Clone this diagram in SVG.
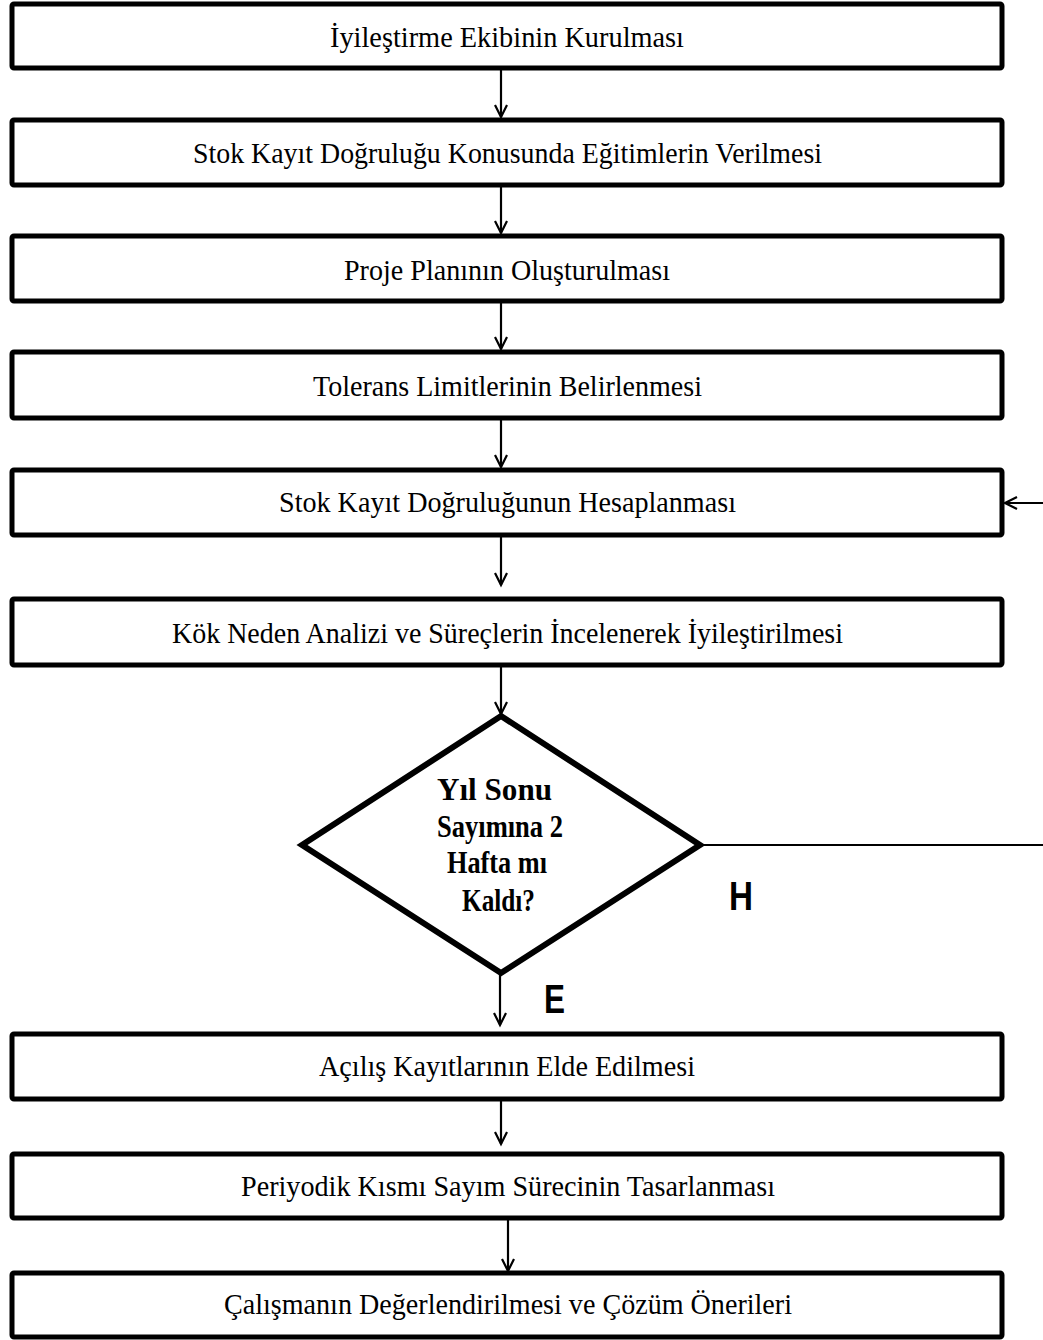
<svg xmlns="http://www.w3.org/2000/svg" width="1043" height="1340" viewBox="0 0 1043 1340">
<style>
.box{fill:#fff;stroke:#000;stroke-width:5;}
.dia{fill:#fff;stroke:#000;stroke-width:6;stroke-linejoin:miter;}
.t{font-family:"Liberation Serif","Times New Roman",serif;font-size:29px;fill:#000;text-anchor:start;}
.d{font-family:"Liberation Serif","Times New Roman",serif;font-size:31px;font-weight:bold;fill:#000;}
.lab{font-family:"Liberation Sans",Arial,sans-serif;font-size:41px;font-weight:bold;fill:#000;}
.c{fill:none;stroke:#000;stroke-width:2.2;}
</style>
<defs>
<marker id="ah" markerUnits="userSpaceOnUse" markerWidth="16" markerHeight="16" refX="13" refY="8" orient="auto">
<path d="M1,2 L13,8 L1,14" fill="none" stroke="#000" stroke-width="2.2"/>
</marker>
</defs>
<g id="connectors">
<line class="c" x1="501" y1="68" x2="501" y2="117" marker-end="url(#ah)"/>
<line class="c" x1="501" y1="185" x2="501" y2="233" marker-end="url(#ah)"/>
<line class="c" x1="501" y1="301" x2="501" y2="349" marker-end="url(#ah)"/>
<line class="c" x1="501" y1="418" x2="501" y2="467" marker-end="url(#ah)"/>
<line class="c" x1="501" y1="536" x2="501" y2="585" marker-end="url(#ah)"/>
<line class="c" x1="501" y1="665" x2="501" y2="714" marker-end="url(#ah)"/>
<line class="c" x1="500" y1="973" x2="500" y2="1025" marker-end="url(#ah)"/>
<line class="c" x1="501" y1="1099" x2="501" y2="1144" marker-end="url(#ah)"/>
<line class="c" x1="508" y1="1218" x2="508" y2="1271" marker-end="url(#ah)"/>
<line class="c" x1="700" y1="845" x2="1043" y2="845"/>
<line class="c" x1="1043" y1="503" x2="1005" y2="503" marker-end="url(#ah)"/>
</g>
<g id="n1"><rect class="box" x="12" y="4" width="990" height="64" rx="2"/><text class="t" x="330" y="47" textLength="354" lengthAdjust="spacingAndGlyphs">İyileştirme Ekibinin Kurulması</text></g>
<g id="n2"><rect class="box" x="12" y="120" width="990" height="65" rx="2"/><text class="t" x="193" y="163" textLength="629" lengthAdjust="spacingAndGlyphs">Stok Kayıt Doğruluğu Konusunda Eğitimlerin Verilmesi</text></g>
<g id="n3"><rect class="box" x="12" y="236" width="990" height="65" rx="2"/><text class="t" x="344" y="280" textLength="326" lengthAdjust="spacingAndGlyphs">Proje Planının Oluşturulması</text></g>
<g id="n4"><rect class="box" x="12" y="352" width="990" height="66" rx="2"/><text class="t" x="313" y="396" textLength="389" lengthAdjust="spacingAndGlyphs">Tolerans Limitlerinin Belirlenmesi</text></g>
<g id="n5"><rect class="box" x="12" y="470" width="990" height="65" rx="2"/><text class="t" x="279" y="512" textLength="457" lengthAdjust="spacingAndGlyphs">Stok Kayıt Doğruluğunun Hesaplanması</text></g>
<g id="n6"><rect class="box" x="12" y="599" width="990" height="66" rx="2"/><text class="t" x="172" y="643" textLength="671" lengthAdjust="spacingAndGlyphs">Kök Neden Analizi ve Süreçlerin İncelenerek İyileştirilmesi</text></g>
<g id="n7"><polygon class="dia" points="501,716 700,845 501,973 302,845"/>
<text class="d" x="437" y="800" textLength="115" lengthAdjust="spacingAndGlyphs">Yıl Sonu</text>
<text class="d" x="437" y="837" textLength="126" lengthAdjust="spacingAndGlyphs">Sayımına 2</text>
<text class="d" x="447" y="873" textLength="100" lengthAdjust="spacingAndGlyphs">Hafta mı</text>
<text class="d" x="462" y="911" textLength="73" lengthAdjust="spacingAndGlyphs">Kaldı?</text>
</g>
<g id="n8"><rect class="box" x="12" y="1034" width="990" height="65" rx="2"/><text class="t" x="319" y="1076" textLength="376" lengthAdjust="spacingAndGlyphs">Açılış Kayıtlarının Elde Edilmesi</text></g>
<g id="n9"><rect class="box" x="12" y="1154" width="990" height="64" rx="2"/><text class="t" x="241" y="1196" textLength="534" lengthAdjust="spacingAndGlyphs">Periyodik Kısmı Sayım Sürecinin Tasarlanması</text></g>
<g id="n10"><rect class="box" x="12" y="1273" width="990" height="64" rx="2"/><text class="t" x="224" y="1314" textLength="568" lengthAdjust="spacingAndGlyphs">Çalışmanın Değerlendirilmesi ve Çözüm Önerileri</text></g>
<g id="labels">
<text class="lab" x="729" y="910" textLength="24" lengthAdjust="spacingAndGlyphs">H</text>
<text class="lab" x="544" y="1013" textLength="21" lengthAdjust="spacingAndGlyphs">E</text>
</g>
</svg>
